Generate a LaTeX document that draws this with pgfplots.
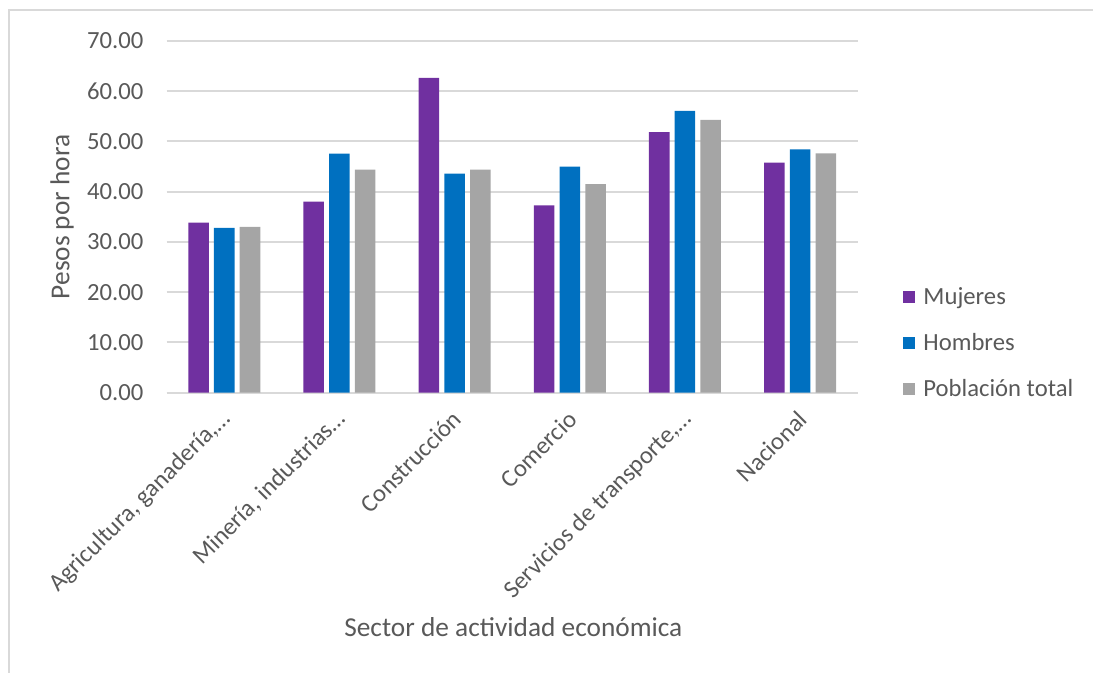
\documentclass[border=0pt]{standalone}
\usepackage{pgfplots}
\pgfplotsset{compat=1.18}
\usepackage{fontspec}
\setmainfont{Carlito}
\definecolor{cMuj}{HTML}{7030A0}
\definecolor{cHom}{HTML}{0070C0}
\definecolor{cPob}{HTML}{A5A5A5}
\definecolor{txt}{HTML}{595959}
\definecolor{gridc}{HTML}{D9D9D9}
\begin{document}
\begin{tikzpicture}
\begin{axis}[
  at={(125pt,209.5pt)}, anchor=south west,
  scale only axis, width=518.3pt, height=263.8pt,
  ybar=3.9pt, bar width=15.4pt,
  xmin=-0.5, xmax=5.5, ymin=0, ymax=70,
  xtick=data,
  xticklabels={{Agricultura, ganadería,…}, {Minería, industrias…}, {Construcción}, {Comercio}, {Servicios de transporte,…}, {Nacional}},
  x tick label style={rotate=45, anchor=east, font=\fontsize{18.5}{20}\selectfont, text=txt, xshift=-7.3pt, yshift=-13.5pt},
  ytick={0,10,...,70},
  yticklabel style={font=\fontsize{18.5}{20}\selectfont, text=txt, xshift=-14pt,
    /pgf/number format/fixed, /pgf/number format/fixed zerofill,
    /pgf/number format/precision=2, /pgf/number format/assume math mode=true},
  ymajorgrids, xmajorgrids=false, grid style={draw=gridc, line width=1.5pt},
  axis lines*=left,
  x axis line style={draw=gridc, line width=1.5pt, -},
  y axis line style={draw=none},
  tick style={draw=none},
  major tick length=0pt,
  legend style={at={(axis description cs:1.06,0.1405)}, anchor=west, draw=none, fill=none,
    font=\fontsize{18.5}{20}\selectfont, text=txt, row sep=16.3pt, legend cell align=left},
  legend image code/.code={\fill[#1] (0pt,-4.5pt) rectangle (9pt,4.5pt); \path (13pt,0pt);},
]
\addplot[fill=cMuj, draw=none] coordinates {(0,33.84) (1,38.01) (2,62.65) (3,37.28) (4,51.85) (5,45.76)};
\addplot[fill=cHom, draw=none] coordinates {(0,32.78) (1,47.55) (2,43.58) (3,44.97) (4,56.09) (5,48.41)};
\addplot[fill=cPob, draw=none] coordinates {(0,32.98) (1,44.37) (2,44.37) (3,41.52) (4,54.30) (5,47.62)};
\legend{Mujeres, Hombres, Población total}
\end{axis}
\node[rotate=90, text=txt, font=\fontsize{20.5}{22}\selectfont] at (46.5pt,341.3pt) {Pesos por hora};
\node[text=txt, font=\fontsize{20.5}{22}\selectfont] at (385pt,33.8pt) {Sector de actividad económica};
\draw[gridc, line width=1.5pt] (6.75pt,-5pt) -- (6.75pt,496.5pt) -- (825pt,496.5pt);
\pgfresetboundingbox
\useasboundingbox (0,0) rectangle (819.75pt,504pt);
\end{tikzpicture}
\end{document}
